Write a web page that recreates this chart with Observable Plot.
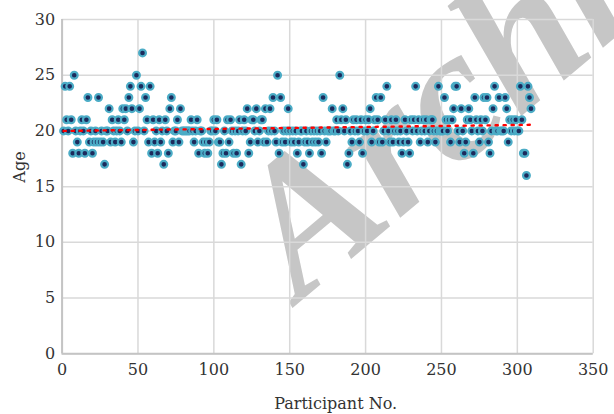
<!DOCTYPE html>
<html><head><meta charset="utf-8">
<script src="https://cdn.jsdelivr.net/npm/d3@7"></script>
<script src="https://cdn.jsdelivr.net/npm/@observablehq/plot@0.6"></script>
<style>html,body{margin:0;padding:0;background:#fff;} svg{display:block;}</style>
</head><body><div id="chart"></div>
<script>
// Age of each participant (participant No. 1..309)
const ages = [
  20,24,21,20,24,21,18,25,20,19,
  18,20,21,20,18,21,23,19,20,18,
  19,20,19,23,19,20,19,17,20,20,
  22,19,21,20,19,20,21,20,19,22,
  21,22,20,23,24,22,19,20,25,20,
  22,24,27,20,23,21,19,24,18,21,
  19,20,18,21,19,20,17,21,20,18,
  22,23,19,20,20,21,19,22,20,20,
  20,20,20,20,21,20,19,20,21,18,
  20,20,19,18,19,18,19,20,20,21,
  20,21,19,19,17,18,20,18,21,19,
  21,20,18,20,18,20,21,17,20,21,
  20,22,18,19,21,21,20,22,19,20,
  21,21,19,22,19,20,22,20,23,20,
  19,25,18,23,19,20,19,20,22,20,
  19,20,19,20,18,19,20,20,17,19,
  20,19,18,20,19,20,19,20,19,20,
  18,23,20,19,20,20,20,22,20,20,
  21,20,25,21,22,20,21,17,18,20,
  19,21,20,21,20,19,21,18,20,21,
  20,21,22,19,20,21,23,21,19,23,
  19,20,21,24,20,19,21,19,20,21,
  20,19,20,18,19,21,20,19,18,21,
  20,21,24,20,21,19,20,21,20,21,
  19,20,21,21,20,19,20,24,20,20,
  20,23,21,20,21,19,21,22,24,24,
  20,19,22,20,18,19,21,22,21,20,
  18,23,21,20,19,21,20,23,21,23,
  19,18,20,22,24,20,20,23,20,20,
  20,23,22,19,21,20,21,20,21,20,
  20,24,21,18,18,16,24,23,22
];
const participants = ages.map((a, i) => i + 1);
// Linear trend line (start / end)
const trendX = [1, 309];
const trendY = [20.0, 20.55];
const xTicks = [0, 50, 100, 150, 200, 250, 300, 350];
const yTicks = [0, 5, 10, 15, 20, 25, 30];
const xLabel = "Participant No.";
const yLabel = "Age";
const watermark = "Archive";

const data = ages.map((age, i) => ({participant: participants[i], age}));
const trend = trendX.map((x, i) => ({participant: x, age: trendY[i]}));

const chart = Plot.plot({
  width: 614, height: 414,
  marginLeft: 61.6, marginRight: 21.3, marginTop: 19, marginBottom: 60.7,
  x: {domain: [0, 350]},
  y: {domain: [0, 30]},
  style: {background: "#fff", fontFamily: "DejaVu Serif"},
  marks: [
    Plot.text([watermark], {text: d => d, frameAnchor: "bottom-left", dx: 238, dy: -52, rotate: -40,
      fontSize: 190, fontStyle: "italic", fontWeight: "bold", fontFamily: "Liberation Serif",
      fill: "#c6c6c6", textAnchor: "start", lineAnchor: "bottom"}),
    Plot.gridX(xTicks, {stroke: "#d9d9d9", strokeOpacity: 1, strokeWidth: 1.5}),
    Plot.gridY(yTicks, {stroke: "#d9d9d9", strokeOpacity: 1, strokeWidth: 1.5}),
    Plot.ruleX([0], {stroke: "#c4c4c4", strokeWidth: 2}),
    Plot.ruleY([0], {stroke: "#c4c4c4", strokeWidth: 2}),
    Plot.axisX(xTicks, {tickSize: 0, tickPadding: 10, fontSize: 16, color: "#333", label: null}),
    Plot.axisY(yTicks, {tickSize: 0, tickPadding: 7, fontSize: 16, color: "#333", label: null}),
    Plot.dot(data, {x: "participant", y: "age", r: 3.4, fill: "#1c2a5c", stroke: "#4bacc6", strokeWidth: 2.2}),
    Plot.line(trend, {x: "participant", y: "age", stroke: "#ff0000", strokeWidth: 2.4, strokeDasharray: "2.2 5.8"}),
    Plot.text([xLabel], {text: d => d, frameAnchor: "bottom", dx: 8, dy: 55, fontSize: 16,
      fontFamily: "DejaVu Serif", fill: "#333"}),
    Plot.text([yLabel], {text: d => d, frameAnchor: "left", dx: -42, dy: -4, rotate: -90, fontSize: 16,
      fontFamily: "DejaVu Serif", fill: "#333"})
  ]
});
document.getElementById("chart").appendChild(chart);
</script>
</body></html>
